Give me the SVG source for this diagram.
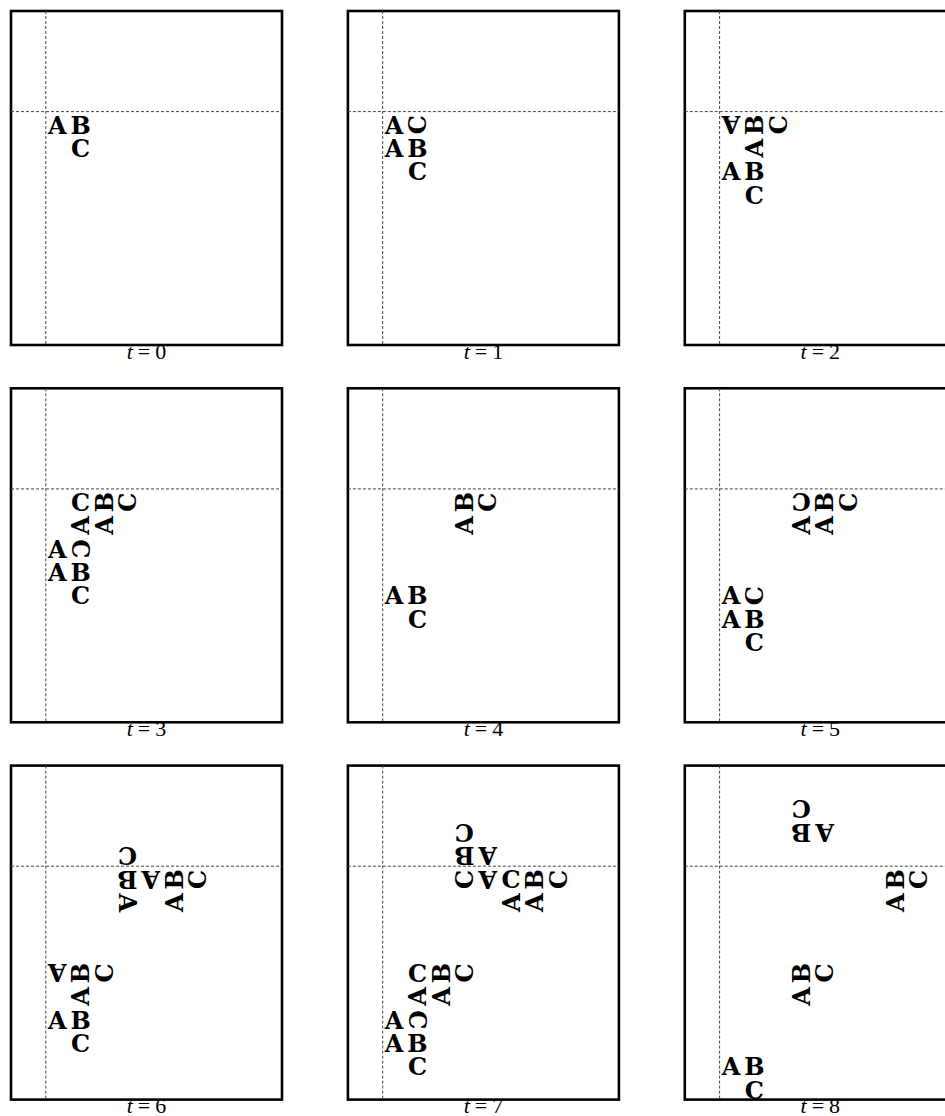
<svg xmlns="http://www.w3.org/2000/svg" width="945" height="1116" viewBox="0 0 945 1116">
<style>
.frame{fill:none;stroke:#000;stroke-width:2.6}
.dot{stroke:#444;stroke-width:1;stroke-dasharray:3 2;fill:none}
.g{font-family:"DejaVu Serif","Liberation Serif",serif;font-weight:bold;font-size:24px;text-anchor:middle;fill:#000}
.lbl{font-family:"Liberation Serif","DejaVu Serif",serif;font-size:22px;text-anchor:middle;fill:#000}
</style>
<rect width="945" height="1116" fill="#fff"/>

<g id="panel-t0">
<rect class="frame" x="11" y="11" width="271" height="334"/>
<line class="dot" x1="45.8" y1="11" x2="45.8" y2="345"/>
<line class="dot" x1="11" y1="111.6" x2="282" y2="111.6"/>
<text class="g" transform="translate(57.2 124.8)" y="8.7">A</text>
<text class="g" transform="translate(80.6 124.8)" y="8.7">B</text>
<text class="g" transform="translate(80.6 148.2)" y="8.7">C</text>
<text class="lbl" x="146.5" y="359"><tspan font-style="italic">t</tspan><tspan dx="5">=</tspan><tspan dx="5">0</tspan></text>
</g>

<g id="panel-t1">
<rect class="frame" x="347.9" y="11" width="271" height="334"/>
<line class="dot" x1="382.7" y1="11" x2="382.7" y2="345"/>
<line class="dot" x1="347.9" y1="111.6" x2="618.9" y2="111.6"/>
<text class="g" transform="translate(394.1 124.8)" y="8.7">A</text>
<text class="g" transform="translate(417.5 124.8) rotate(-90)" y="8.7">C</text>
<text class="g" transform="translate(394.1 148.2)" y="8.7">A</text>
<text class="g" transform="translate(417.5 148.2)" y="8.7">B</text>
<text class="g" transform="translate(417.5 171.6)" y="8.7">C</text>
<text class="lbl" x="483.4" y="359"><tspan font-style="italic">t</tspan><tspan dx="5">=</tspan><tspan dx="5">1</tspan></text>
</g>

<g id="panel-t2">
<rect class="frame" x="684.8" y="11" width="271" height="334"/>
<line class="dot" x1="719.6" y1="11" x2="719.6" y2="345"/>
<line class="dot" x1="684.8" y1="111.6" x2="955.8" y2="111.6"/>
<text class="g" transform="translate(731 124.8) rotate(180)" y="8.7">A</text>
<text class="g" transform="translate(754.4 124.8) rotate(-90)" y="8.7">B</text>
<text class="g" transform="translate(777.8 124.8) rotate(-90)" y="8.7">C</text>
<text class="g" transform="translate(754.4 148.2) rotate(-90)" y="8.7">A</text>
<text class="g" transform="translate(731 171.6)" y="8.7">A</text>
<text class="g" transform="translate(754.4 171.6)" y="8.7">B</text>
<text class="g" transform="translate(754.4 195)" y="8.7">C</text>
<text class="lbl" x="820.3" y="359"><tspan font-style="italic">t</tspan><tspan dx="5">=</tspan><tspan dx="5">2</tspan></text>
</g>

<g id="panel-t3">
<rect class="frame" x="11" y="388.3" width="271" height="334"/>
<line class="dot" x1="45.8" y1="388.3" x2="45.8" y2="722.3"/>
<line class="dot" x1="11" y1="488.9" x2="282" y2="488.9"/>
<text class="g" transform="translate(80.6 502.1)" y="8.7">C</text>
<text class="g" transform="translate(104 502.1) rotate(-90)" y="8.7">B</text>
<text class="g" transform="translate(127.4 502.1) rotate(-90)" y="8.7">C</text>
<text class="g" transform="translate(80.6 525.5) rotate(-90)" y="8.7">A</text>
<text class="g" transform="translate(104 525.5) rotate(-90)" y="8.7">A</text>
<text class="g" transform="translate(57.2 548.9)" y="8.7">A</text>
<text class="g" transform="translate(80.6 548.9) rotate(90)" y="8.7">C</text>
<text class="g" transform="translate(57.2 572.3)" y="8.7">A</text>
<text class="g" transform="translate(80.6 572.3)" y="8.7">B</text>
<text class="g" transform="translate(80.6 595.7)" y="8.7">C</text>
<text class="lbl" x="146.5" y="736.3"><tspan font-style="italic">t</tspan><tspan dx="5">=</tspan><tspan dx="5">3</tspan></text>
</g>

<g id="panel-t4">
<rect class="frame" x="347.9" y="388.3" width="271" height="334"/>
<line class="dot" x1="382.7" y1="388.3" x2="382.7" y2="722.3"/>
<line class="dot" x1="347.9" y1="488.9" x2="618.9" y2="488.9"/>
<text class="g" transform="translate(464.3 502.1) rotate(-90)" y="8.7">B</text>
<text class="g" transform="translate(487.7 502.1) rotate(-90)" y="8.7">C</text>
<text class="g" transform="translate(464.3 525.5) rotate(-90)" y="8.7">A</text>
<text class="g" transform="translate(394.1 595.7)" y="8.7">A</text>
<text class="g" transform="translate(417.5 595.7)" y="8.7">B</text>
<text class="g" transform="translate(417.5 619.1)" y="8.7">C</text>
<text class="lbl" x="483.4" y="736.3"><tspan font-style="italic">t</tspan><tspan dx="5">=</tspan><tspan dx="5">4</tspan></text>
</g>

<g id="panel-t5">
<rect class="frame" x="684.8" y="388.3" width="271" height="334"/>
<line class="dot" x1="719.6" y1="388.3" x2="719.6" y2="722.3"/>
<line class="dot" x1="684.8" y1="488.9" x2="955.8" y2="488.9"/>
<text class="g" transform="translate(801.2 502.1) rotate(180)" y="8.7">C</text>
<text class="g" transform="translate(801.2 525.5) rotate(-90)" y="8.7">A</text>
<text class="g" transform="translate(824.6 502.1) rotate(-90)" y="8.7">B</text>
<text class="g" transform="translate(848 502.1) rotate(-90)" y="8.7">C</text>
<text class="g" transform="translate(824.6 525.5) rotate(-90)" y="8.7">A</text>
<text class="g" transform="translate(731 595.7)" y="8.7">A</text>
<text class="g" transform="translate(754.4 595.7) rotate(-90)" y="8.7">C</text>
<text class="g" transform="translate(731 619.1)" y="8.7">A</text>
<text class="g" transform="translate(754.4 619.1)" y="8.7">B</text>
<text class="g" transform="translate(754.4 642.5)" y="8.7">C</text>
<text class="lbl" x="820.3" y="736.3"><tspan font-style="italic">t</tspan><tspan dx="5">=</tspan><tspan dx="5">5</tspan></text>
</g>

<g id="panel-t6">
<rect class="frame" x="11" y="765.6" width="271" height="334"/>
<line class="dot" x1="45.8" y1="765.6" x2="45.8" y2="1099.6"/>
<line class="dot" x1="11" y1="866.2" x2="282" y2="866.2"/>
<text class="g" transform="translate(127.4 856) rotate(180)" y="8.7">C</text>
<text class="g" transform="translate(127.4 879.4) rotate(180)" y="8.7">B</text>
<text class="g" transform="translate(150.8 879.4) rotate(180)" y="8.7">A</text>
<text class="g" transform="translate(127.4 902.8) rotate(90)" y="8.7">A</text>
<text class="g" transform="translate(174.2 879.4) rotate(-90)" y="8.7">B</text>
<text class="g" transform="translate(197.6 879.4) rotate(-90)" y="8.7">C</text>
<text class="g" transform="translate(174.2 902.8) rotate(-90)" y="8.7">A</text>
<text class="g" transform="translate(57.2 973) rotate(180)" y="8.7">A</text>
<text class="g" transform="translate(80.6 973) rotate(-90)" y="8.7">B</text>
<text class="g" transform="translate(104 973) rotate(-90)" y="8.7">C</text>
<text class="g" transform="translate(80.6 996.4) rotate(-90)" y="8.7">A</text>
<text class="g" transform="translate(57.2 1019.8)" y="8.7">A</text>
<text class="g" transform="translate(80.6 1019.8)" y="8.7">B</text>
<text class="g" transform="translate(80.6 1043.2)" y="8.7">C</text>
<text class="lbl" x="146.5" y="1113"><tspan font-style="italic">t</tspan><tspan dx="5">=</tspan><tspan dx="5">6</tspan></text>
</g>

<g id="panel-t7">
<rect class="frame" x="347.9" y="765.6" width="271" height="334"/>
<line class="dot" x1="382.7" y1="765.6" x2="382.7" y2="1099.6"/>
<line class="dot" x1="347.9" y1="866.2" x2="618.9" y2="866.2"/>
<text class="g" transform="translate(464.3 832.6) rotate(180)" y="8.7">C</text>
<text class="g" transform="translate(464.3 856) rotate(180)" y="8.7">B</text>
<text class="g" transform="translate(487.7 856) rotate(180)" y="8.7">A</text>
<text class="g" transform="translate(464.3 879.4) rotate(-90)" y="8.7">C</text>
<text class="g" transform="translate(487.7 879.4) rotate(180)" y="8.7">A</text>
<text class="g" transform="translate(511.1 879.4)" y="8.7">C</text>
<text class="g" transform="translate(534.5 879.4) rotate(-90)" y="8.7">B</text>
<text class="g" transform="translate(557.9 879.4) rotate(-90)" y="8.7">C</text>
<text class="g" transform="translate(511.1 902.8) rotate(-90)" y="8.7">A</text>
<text class="g" transform="translate(534.5 902.8) rotate(-90)" y="8.7">A</text>
<text class="g" transform="translate(417.5 973)" y="8.7">C</text>
<text class="g" transform="translate(440.9 973) rotate(-90)" y="8.7">B</text>
<text class="g" transform="translate(464.3 973) rotate(-90)" y="8.7">C</text>
<text class="g" transform="translate(417.5 996.4) rotate(-90)" y="8.7">A</text>
<text class="g" transform="translate(440.9 996.4) rotate(-90)" y="8.7">A</text>
<text class="g" transform="translate(394.1 1019.8)" y="8.7">A</text>
<text class="g" transform="translate(417.5 1019.8) rotate(90)" y="8.7">C</text>
<text class="g" transform="translate(394.1 1043.2)" y="8.7">A</text>
<text class="g" transform="translate(417.5 1043.2)" y="8.7">B</text>
<text class="g" transform="translate(417.5 1066.6)" y="8.7">C</text>
<text class="lbl" x="483.4" y="1113"><tspan font-style="italic">t</tspan><tspan dx="5">=</tspan><tspan dx="5">7</tspan></text>
</g>

<g id="panel-t8">
<rect class="frame" x="684.8" y="765.6" width="271" height="334"/>
<line class="dot" x1="719.6" y1="765.6" x2="719.6" y2="1099.6"/>
<line class="dot" x1="684.8" y1="866.2" x2="955.8" y2="866.2"/>
<text class="g" transform="translate(801.2 809.2) rotate(180)" y="8.7">C</text>
<text class="g" transform="translate(801.2 832.6) rotate(180)" y="8.7">B</text>
<text class="g" transform="translate(824.6 832.6) rotate(180)" y="8.7">A</text>
<text class="g" transform="translate(894.8 879.4) rotate(-90)" y="8.7">B</text>
<text class="g" transform="translate(918.2 879.4) rotate(-90)" y="8.7">C</text>
<text class="g" transform="translate(894.8 902.8) rotate(-90)" y="8.7">A</text>
<text class="g" transform="translate(801.2 973) rotate(-90)" y="8.7">B</text>
<text class="g" transform="translate(824.6 973) rotate(-90)" y="8.7">C</text>
<text class="g" transform="translate(801.2 996.4) rotate(-90)" y="8.7">A</text>
<text class="g" transform="translate(731 1066.6)" y="8.7">A</text>
<text class="g" transform="translate(754.4 1066.6)" y="8.7">B</text>
<text class="g" transform="translate(754.4 1090)" y="8.7">C</text>
<text class="lbl" x="820.3" y="1113"><tspan font-style="italic">t</tspan><tspan dx="5">=</tspan><tspan dx="5">8</tspan></text>
</g>
</svg>
